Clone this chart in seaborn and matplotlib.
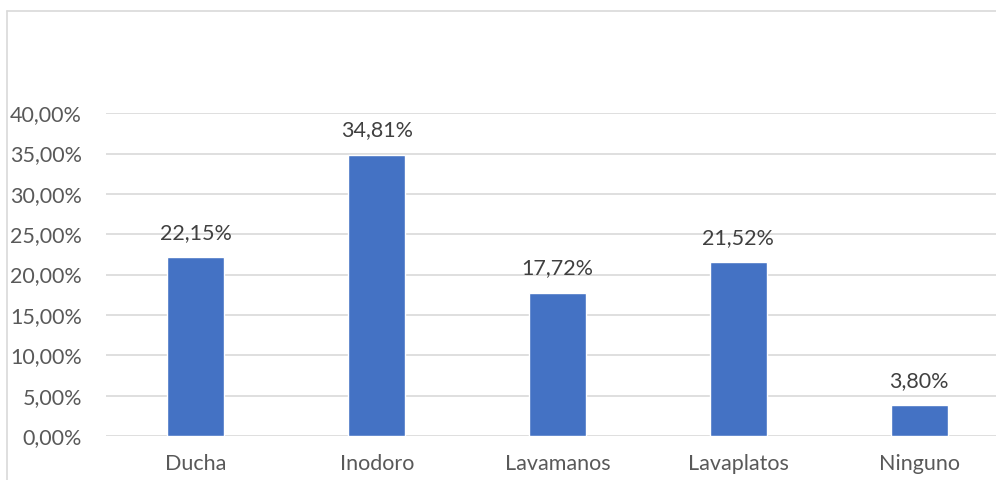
import matplotlib
matplotlib.use("Agg")
import matplotlib.pyplot as plt
import seaborn as sns
import pandas as pd
from matplotlib.lines import Line2D

categories = ["Ducha", "Inodoro", "Lavamanos", "Lavaplatos", "Ninguno"]
values = [22.15, 34.81, 17.72, 21.52, 3.80]
yticks = [0, 5, 10, 15, 20, 25, 30, 35, 40]

sns.set_theme(style="white")
plt.rcParams["font.family"] = ["Lato", "DejaVu Sans"]

df = pd.DataFrame({"cat": categories, "val": values})

fig = plt.figure(figsize=(9.96, 4.8), dpi=100)
ax = fig.add_axes([0.106, 0.0917, 0.9075, 0.6725])
sns.barplot(data=df, x="cat", y="val", color="#4472C4", width=0.315, ax=ax, saturation=1)

ax.set_ylim(0, 40)
ax.set_xlim(-0.5, 4.5)
ax.set_yticks(yticks)
ax.set_yticklabels([f"{t:.2f}%".replace(".", ",") for t in yticks])
ax.yaxis.grid(True, color="#d9d9d9", linewidth=1.2)
ax.set_axisbelow(True)
for s in ax.spines.values():
    s.set_visible(False)
ax.set_xlabel("")
ax.set_ylabel("")
ax.tick_params(axis="both", length=0, labelsize=15.5, labelcolor="#595959")
ax.tick_params(axis="y", pad=17)
ax.tick_params(axis="x", pad=13)

for i, v in enumerate(values):
    ax.annotate(f"{v:.2f}%".replace(".", ","), (i, v), xytext=(0, 10.5),
                textcoords="offset points", ha="center", va="bottom",
                fontsize=15.5, color="#404040")

# chart-area border (left and top)
fig.add_artist(Line2D([0.007, 0.007], [0.0, 0.977], transform=fig.transFigure,
                      color="#d9d9d9", linewidth=1.2))
fig.add_artist(Line2D([0.007, 1.0], [0.977, 0.977], transform=fig.transFigure,
                      color="#d9d9d9", linewidth=1.2))

fig.savefig("out.png", dpi=100)
